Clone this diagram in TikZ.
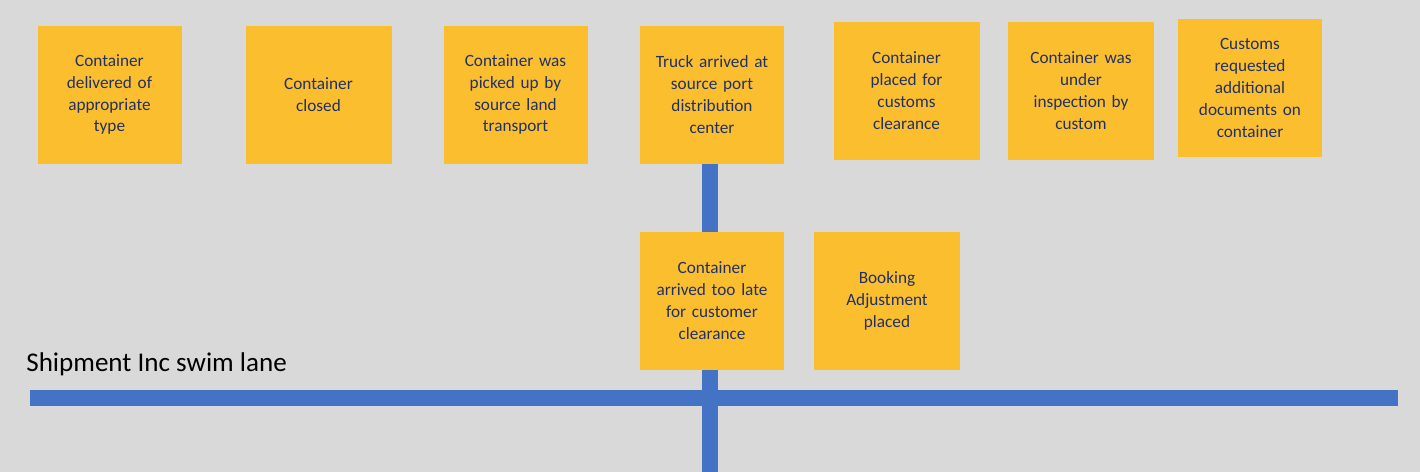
\documentclass[tikz,border=0pt]{standalone}
\usepackage{fontspec}
\setmainfont{Carlito}
\usepackage{xcolor}
\usetikzlibrary{positioning, backgrounds}
\definecolor{notegold}{HTML}{FBBE2E}
\definecolor{noteink}{HTML}{213163}
\definecolor{laneblue}{HTML}{4472C4}
\definecolor{canvasgray}{HTML}{D9D9D9}

\begin{document}
\begin{tikzpicture}[
  every node/.style={font=\fontsize{9.8}{12.5}\selectfont},
  note/.style={fill=notegold, text=noteink, minimum width=2.88cm,
               minimum height=2.76cm, text width=2.7cm, align=center,
               inner sep=0pt},
  wide/.style={note, minimum width=2.92cm},
  lane/.style={draw=laneblue, line width=0.32cm}
]
\useasboundingbox (0,0) rectangle (28.4,-9.44);

%% upper row of events
\node[note] (delivered) at (2.19,-1.89)  {Container\\delivered of\\appropriate\\type};
\node[wide] (closed)    at (6.37,-1.89)  {Container\\closed};
\node[note] (pickup)    at (10.31,-1.89) {Container was\\picked up by\\source land\\transport};
\node[note] (truck)     at (14.24,-1.89) {Truck arrived at\\source port\\distribution\\center};
\node[wide] (placed)    at (18.13,-1.81) {Container\\placed for\\customs\\clearance};
\node[wide] (inspect)   at (21.62,-1.82) {Container was\\under\\inspection by\\custom};
\node[note] (docs)      at (25.00,-1.76) {Customs\\requested\\additional\\documents on\\container};

%% lower row of events
\node[note] (late)    at (14.24,-6.02) {Container\\arrived too late\\for customer\\clearance};
\node[wide] (booking) at (17.74,-6.02) {Booking\\Adjustment\\placed};

%% swim lane
\node[font=\fontsize{15.4}{18}\selectfont, anchor=base west, inner sep=0pt]
  (lanelabel) at (0.52,-7.42) {Shipment Inc swim lane};
\coordinate (lanestart) at (0.6,-7.96);
\coordinate (laneend)   at (27.96,-7.96);
\coordinate (stembot)   at (14.2,-9.44);

\draw[lane] (lanestart) -- (laneend);
\draw[lane] (truck.south -| stembot) -- (late.north -| stembot);
\draw[lane] (late.south -| stembot) -- (stembot);

%% canvas
\begin{scope}[on background layer]
  \fill[canvasgray] (0,0) rectangle (28.4,-9.44);
\end{scope}

\end{tikzpicture}
\end{document}
